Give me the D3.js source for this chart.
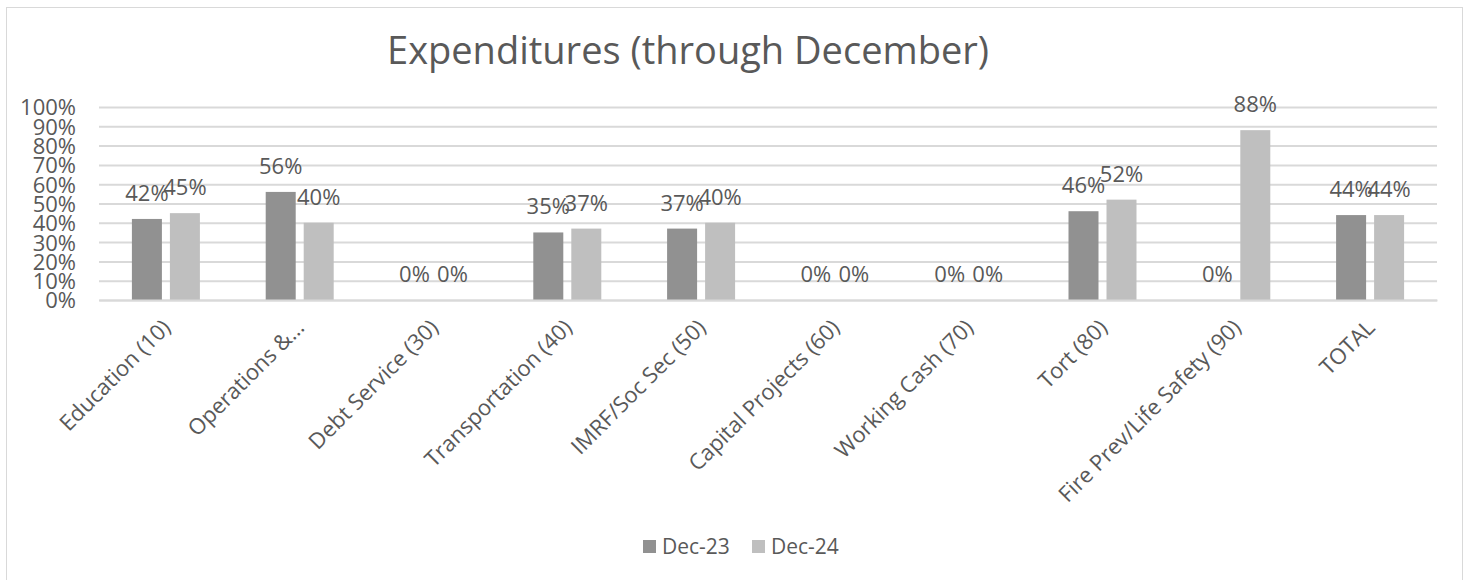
<!DOCTYPE html>
<html><head><meta charset="utf-8">
<script src="https://cdn.jsdelivr.net/npm/d3@7"></script>
<style>body{margin:0;background:#fff}svg{display:block}text{font-family:"Open Sans",sans-serif;fill:#595959}</style>
</head><body><svg id="c" width="1468" height="580"></svg>
<script>
const categories = ["Education (10)","Operations &…","Debt Service (30)","Transportation (40)","IMRF/Soc Sec (50)","Capital Projects (60)","Working Cash (70)","Tort (80)","Fire Prev/Life Safety (90)","TOTAL"];
const seriesNames = ["Dec-23","Dec-24"];
const dec23 = [42,56,0,35,37,0,0,46,0,44];
const dec24 = [45,40,0,37,40,0,0,52,88,44];
const yTicks = [0,10,20,30,40,50,60,70,80,90,100];
const colors = ["#919191","#bfbfbf"];
const title = "Expenditures (through December)";

const svg = d3.select("#c");
svg.append("rect").attr("x",6.5).attr("y",7.5).attr("width",1456).attr("height",600)
  .attr("fill","#fff").attr("stroke","#d9d9d9").attr("stroke-width",1);

const L=99, R=1437, T=107, B=300;
const x = d3.scaleBand().domain(categories).range([L,R]).padding(0);
const y = d3.scaleLinear().domain([0,100]).range([B,T]);
const half = x.bandwidth()/2;
const xs = d3.scaleBand().domain(seriesNames).range([half-34, half+34]).paddingInner(2-68/38).paddingOuter(0);

svg.append("text").attr("x",688).attr("y",64).attr("text-anchor","middle")
  .style("font-size","38px").text(title);

// gridlines
const g = svg.append("g").attr("transform",`translate(${L},0)`)
  .call(d3.axisLeft(y).tickValues(yTicks).tickSize(-(R-L)).tickFormat(d=>d+"%"));
g.select(".domain").remove();
g.selectAll(".tick line").attr("stroke","#d9d9d9").attr("stroke-width",2);
g.selectAll(".tick text").attr("x",-23).attr("dy","0.36em").style("font-size","22px").attr("fill","#595959");

const data = seriesNames.map((s,i)=>({s, vals:(i===0?dec23:dec24)}));
data.forEach((ser,si)=>{
  const grp = svg.append("g");
  grp.selectAll("rect").data(ser.vals).join("rect")
    .attr("x",(d,i)=>x(categories[i])+xs(ser.s))
    .attr("width",xs.bandwidth())
    .attr("y",d=>y(d)).attr("height",d=>B-y(d))
    .attr("fill",colors[si]);
  grp.selectAll("text").data(ser.vals).join("text")
    .attr("x",(d,i)=>x(categories[i])+xs(ser.s)+xs.bandwidth()/2)
    .attr("y",d=>y(d)-18)
    .attr("text-anchor","middle").style("font-size","22px")
    .text(d=>d+"%");
});

// x axis
const xa = svg.append("g").attr("transform",`translate(0,${B})`).call(d3.axisBottom(x).tickSize(0));
xa.select(".domain").attr("stroke","#d9d9d9").attr("stroke-width",2);
xa.selectAll(".tick text").attr("text-anchor","end").attr("dy",0).attr("y",0)
  .attr("transform","translate(6,29) rotate(-45)").style("font-size","22px").attr("fill","#595959");

// legend
const leg = svg.append("g").attr("transform","translate(643,540)");
const lx=[0,109];
seriesNames.forEach((s,i)=>{
  leg.append("rect").attr("x",lx[i]).attr("y",0).attr("width",13).attr("height",13).attr("fill",colors[i]);
  leg.append("text").attr("x",lx[i]+19).attr("y",14).style("font-size","21px").text(s);
});
</script></body></html>
